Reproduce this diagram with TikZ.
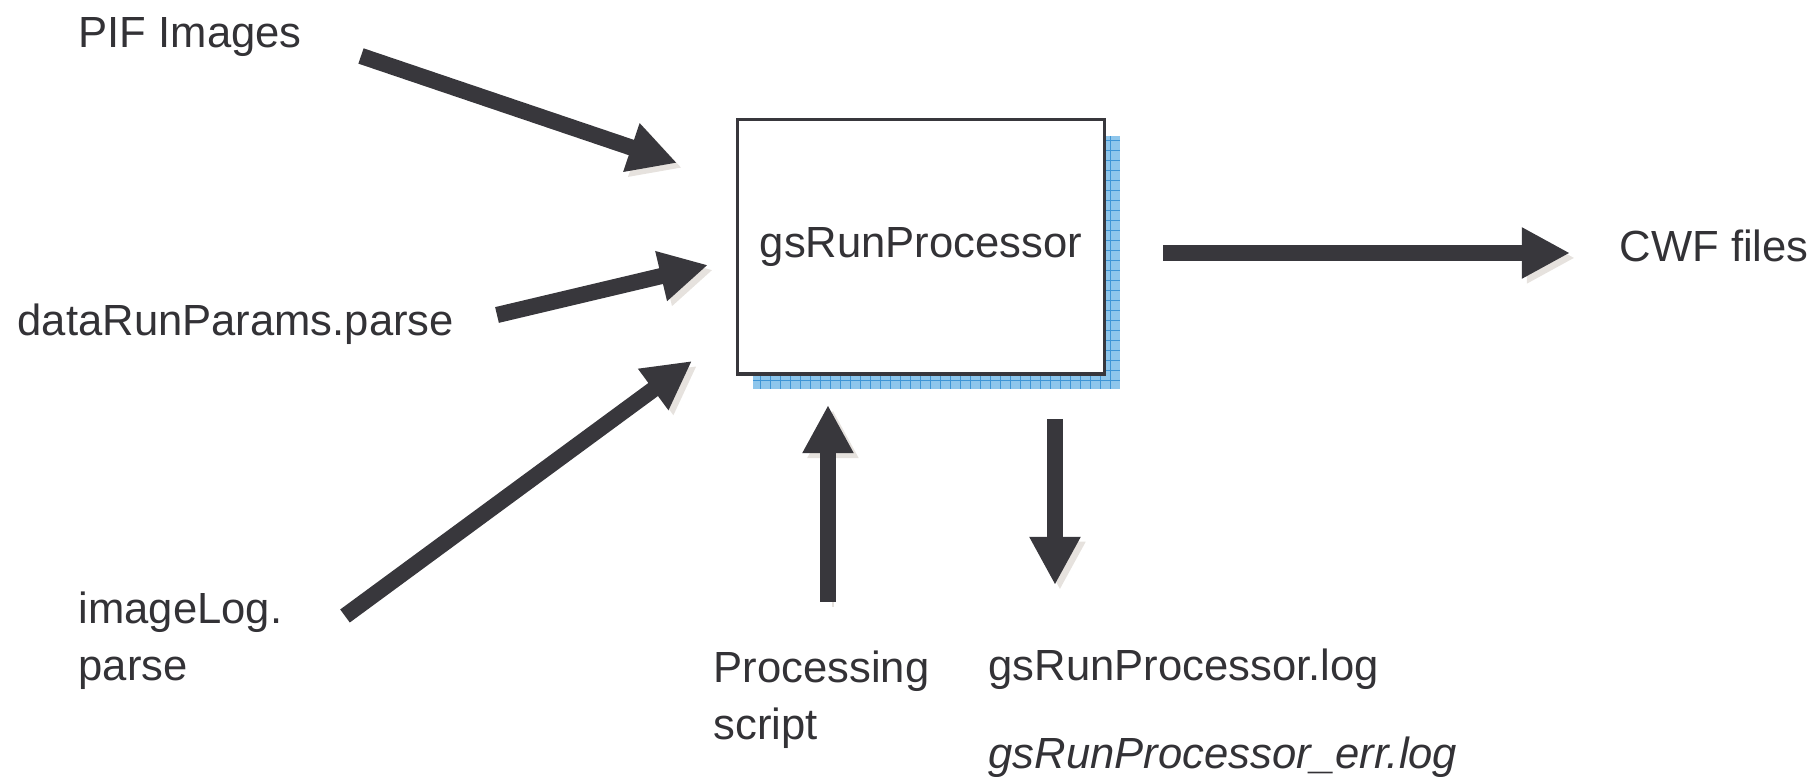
\documentclass[tikz,border=0pt]{standalone}
\usepackage{fontspec}
\setmainfont{Liberation Sans}
\usetikzlibrary{positioning, arrows.meta}
\definecolor{inkgray}{HTML}{38373C}
\definecolor{textgray}{HTML}{333236}
\definecolor{shadegray}{HTML}{E6E2DE}
\definecolor{cellblue}{HTML}{8EC6EC}
\definecolor{lineblue}{HTML}{3E95D6}
\tikzset{
  label text/.style={anchor=west, inner sep=0pt, text=textgray, font=\fontsize{12.4}{16.3}\selectfont, align=left},
  fat arrow/.style={line width=4.6pt, draw=inkgray, -{Triangle[length=13.7pt, width=13.6pt]},
    preaction={draw=shadegray, transform canvas={shift={(1.4pt,-1.4pt)}}}}
}
\begin{document}
\begin{tikzpicture}[x=0.01cm, y=-0.01cm]
        \useasboundingbox (0,0) rectangle (1814,777);

        % Chequered shadow behind the processor box
        \begin{scope}
            \clip (753,136) rectangle (1120,389);
            \fill[cellblue] (753,136) rectangle (1120,389);
            \draw[lineblue, line width=0.3pt, step=0.1cm] (753,136) grid (1120,389);
        \end{scope}

        % Processor box
        \node[draw=inkgray, line width=0.9pt, fill=white, minimum width=3.66cm, minimum height=2.54cm,
              text=textgray, font=\fontsize{12.4}{15}\selectfont] (proc) at (921,247) {gsRunProcessor};

        % Inputs and outputs
        \node[label text] (pif)    at (78,37)   {PIF Images};
        \node[label text] (params) at (17,324)  {dataRunParams.parse};
        \node[label text] (imglog) at (78,641)  {imageLog.\\parse};
        \node[label text] (script) at (713,700) {Processing\\script};
        \node[label text] (cwf)    at (1619,246) {CWF files};
        \node[label text] (log)    at (988,669) {gsRunProcessor.log};
        \node[label text] (errlog) at (988,757) {\itshape gsRunProcessor\_err.log};

        % Arrow ends
        \coordinate (pifA)    at (361,56);   \coordinate (pifB)    at (677,163);
        \coordinate (paramsA) at (497,315);  \coordinate (paramsB) at (708,265);
        \coordinate (imglogA) at (345,616);  \coordinate (imglogB) at (692,361);
        \coordinate (cwfA)    at (1163,253); \coordinate (cwfB)    at (1570,253);
        \coordinate (scriptA) at (828,602);  \coordinate (scriptB) at (828,405);
        \coordinate (logA)    at (1055,419); \coordinate (logB)    at (1055,585);

        % Arrows
        \draw[fat arrow] (pifA) -- (pifB);
        \draw[fat arrow] (paramsA) -- (paramsB);
        \draw[fat arrow] (imglogA) -- (imglogB);
        \draw[fat arrow] (cwfA) -- (cwfB);
        \draw[fat arrow] (scriptA) -- (scriptB);
        \draw[fat arrow] (logA) -- (logB);
    \end{tikzpicture}
\end{document}
